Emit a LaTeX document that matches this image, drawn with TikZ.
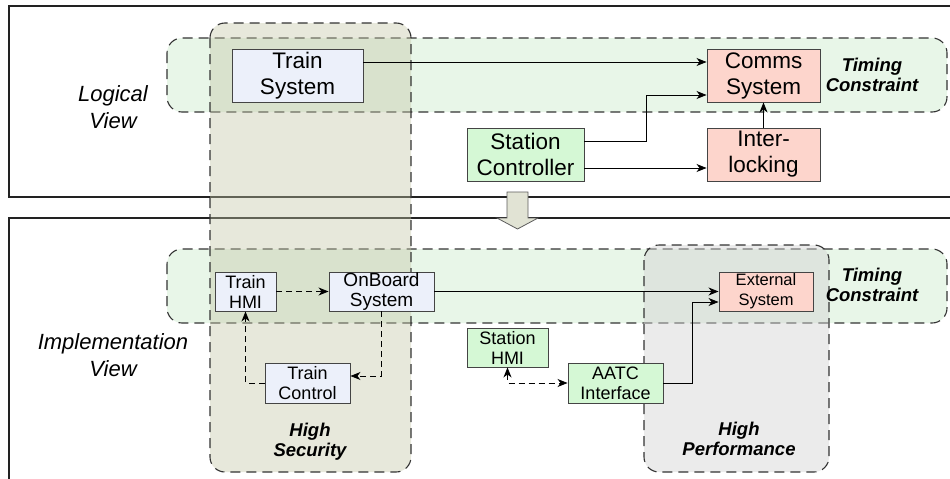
\documentclass[tikz,border=0pt]{standalone}
\usepackage{fontspec}
\setmainfont{Liberation Sans}
\usetikzlibrary{arrows.meta}

\definecolor{frameline}{HTML}{222222}
\definecolor{boxline}{HTML}{444444}
\definecolor{bluefill}{HTML}{ECF0FA}
\definecolor{redfill}{HTML}{FDD5CC}
\definecolor{greenfill}{HTML}{D5F8D5}
\definecolor{bandfill}{HTML}{E8F6E8}
\definecolor{securefill}{HTML}{C4C6A6}
\definecolor{perffill}{HTML}{D2D2D2}
\definecolor{regionline}{HTML}{333333}
\definecolor{blockfill}{HTML}{E1E3D4}

\tikzset{
  frame/.style={draw=frameline, line width=1.1pt},
  region/.style={draw=regionline, line width=1.1pt, dash pattern=on 10pt off 6pt, rounded corners=15pt},
  band/.style={region, fill=bandfill},
  secure/.style={region, fill=securefill, fill opacity=0.4},
  perf/.style={region, fill=perffill, fill opacity=0.45},
  bigbox/.style={draw=boxline, line width=0.9pt, inner sep=0pt, align=center,
    font=\fontsize{22.5}{26}\selectfont},
  smallbox/.style={draw=boxline, line width=0.9pt, inner sep=0pt, align=center,
    font=\fontsize{18}{20}\selectfont},
  viewlabel/.style={align=center, font=\fontsize{22}{27}\selectfont\itshape},
  regionlabel/.style={align=center, font=\fontsize{18.5}{20}\selectfont\bfseries\itshape},
  arr/.style={draw=black, line width=0.9pt, -{Stealth[length=10pt,width=8pt,inset=3pt]}},
  dasharr/.style={arr, dash pattern=on 6pt off 4pt},
  biarr/.style={draw=black, line width=0.9pt, dash pattern=on 6pt off 4pt,
    {Stealth[length=10pt,width=8pt,inset=3pt]}-{Stealth[length=10pt,width=8pt,inset=3pt]}},
}

\begin{document}
\begin{tikzpicture}[x=1pt, y=-1pt]
\useasboundingbox (0,0) rectangle (950,479);

% view frames (open towards the right and the bottom)
\draw[frame] (950,6) -- (9,6) -- (9,197) -- (950,197);
\draw[frame] (950,218) -- (9,218) -- (9,479);

% constraint regions
\draw[band] (167,38) rectangle (947,112);
\draw[band] (167,249) rectangle (947,323);
\draw[secure] (210,23) rectangle (411,472);
\draw[perf] (644,245) rectangle (829,472);

% refinement arrow between the two views
\draw[draw=regionline!80, line width=0.8pt, fill=blockfill]
  (507,192) -- (528,192) -- (528,218) -- (538,218) -- (517.5,229)
  -- (497,218) -- (507,218) -- cycle;

% view labels
\node[viewlabel] (logical) at (113,107) {Logical\\View};
\node[viewlabel] (impl) at (113,355) {Implementation\\View};

% region labels
\node[regionlabel] (tc1) at (872,75) {Timing\\Constraint};
\node[regionlabel] (tc2) at (872,285) {Timing\\Constraint};
\node[regionlabel] (hsec) at (310,442) {High\\Security};
\node[regionlabel] (hperf) at (739,439) {High\\Performance};

% logical view components
\node[bigbox, fill=bluefill, minimum width=131pt, minimum height=53pt] (trainsys) at (297.5,75.5) {Train\\System};
\node[bigbox, fill=redfill, minimum width=113pt, minimum height=53pt] (comms) at (763.5,75.5) {Comms\\System};
\node[bigbox, fill=greenfill, minimum width=117pt, minimum height=53pt] (station) at (525.5,154.5) {Station\\Controller};
\node[bigbox, fill=redfill, minimum width=113pt, minimum height=53pt] (interlock) at (763.5,154.5) {Inter-\\locking};

% implementation view components
\node[smallbox, fill=bluefill, minimum width=61pt, minimum height=39pt] (trainhmi) at (245.5,291.5) {Train\\HMI};
\node[smallbox, fill=bluefill, minimum width=105pt, minimum height=39pt, font=\fontsize{19}{20}\selectfont] (onboard) at (381.5,291.5) {OnBoard\\System};
\node[smallbox, fill=bluefill, minimum width=85pt, minimum height=40pt] (trainctl) at (307.5,383) {Train\\Control};
\node[smallbox, fill=redfill, minimum width=94pt, minimum height=39pt, font=\fontsize{16.5}{20}\selectfont] (external) at (766,291.5) {External\\System};
\node[smallbox, fill=greenfill, minimum width=81pt, minimum height=39pt] (stationhmi) at (507.5,347.5) {Station\\HMI};
\node[smallbox, fill=greenfill, minimum width=95pt, minimum height=40pt] (aatc) at (615.5,383) {AATC\\Interface};

% logical view connectors
\draw[arr] ([yshift=13.5pt]trainsys.east) -- ([yshift=13.5pt]comms.west);
\draw[arr] ([yshift=13.5pt]station.east) -- ++(62,0) |- ([yshift=-19.5pt]comms.west);
\draw[arr] ([yshift=-13.5pt]station.east) -- ([yshift=-13.5pt]interlock.west);
\draw[arr] (interlock.north) -- (comms.south);

% implementation view connectors
\draw[dasharr] (trainhmi.east) -- (onboard.west);
\draw[dasharr] (onboard.south) |- ([yshift=7pt]trainctl.east);
\draw[dasharr] (trainctl.west) -| (trainhmi.south);
\draw[arr] (onboard.east) -- (external.west);
\draw[arr] (aatc.east) -- ++(29,0) |- ([yshift=-10.5pt]external.west);
\draw[biarr] (stationhmi.south) |- (aatc.west);
\end{tikzpicture}
\end{document}
